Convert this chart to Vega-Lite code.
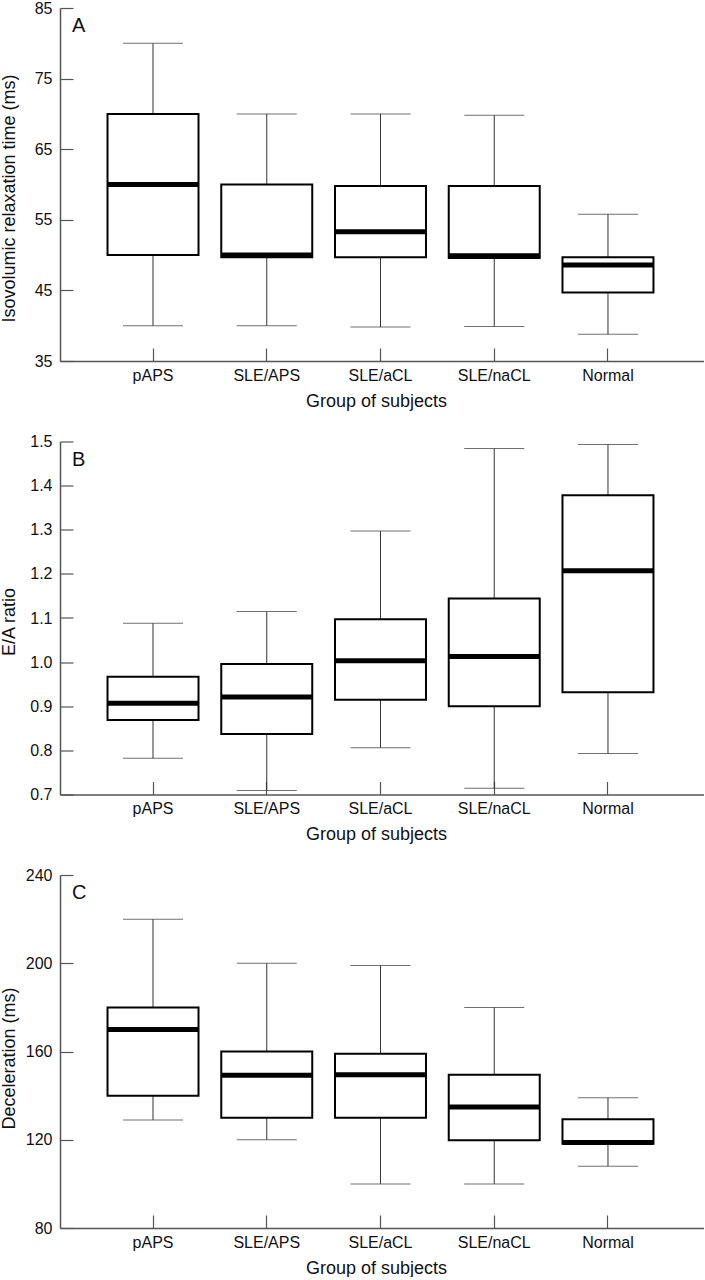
{
  "$schema": "https://vega.github.io/schema/vega-lite/v6.json",
  "padding": {"left": 0, "top": 0, "right": 0, "bottom": 0},
  "bounds": "flush",
  "spacing": 80.5,
  "datasets": {
    "a": [
      {"group": "pAPS", "lo": 40, "q1": 50, "med": 60, "q3": 70, "hi": 80},
      {"group": "SLE/APS", "lo": 40, "q1": 49.7, "med": 50.0, "q3": 60, "hi": 70},
      {"group": "SLE/aCL", "lo": 39.8, "q1": 49.7, "med": 53.3, "q3": 59.8, "hi": 70},
      {"group": "SLE/naCL", "lo": 39.9, "q1": 49.6, "med": 49.9, "q3": 59.8, "hi": 69.8},
      {"group": "Normal", "lo": 38.8, "q1": 44.7, "med": 48.6, "q3": 49.7, "hi": 55.8}
    ],
    "b": [
      {"group": "pAPS", "lo": 0.782, "q1": 0.869, "med": 0.907, "q3": 0.967, "hi": 1.088},
      {"group": "SLE/APS", "lo": 0.709, "q1": 0.837, "med": 0.921, "q3": 0.996, "hi": 1.115},
      {"group": "SLE/aCL", "lo": 0.806, "q1": 0.915, "med": 1.003, "q3": 1.097, "hi": 1.297},
      {"group": "SLE/naCL", "lo": 0.714, "q1": 0.9, "med": 1.013, "q3": 1.144, "hi": 1.484},
      {"group": "Normal", "lo": 0.793, "q1": 0.932, "med": 1.207, "q3": 1.378, "hi": 1.493}
    ],
    "c": [
      {"group": "pAPS", "lo": 129, "q1": 140, "med": 170, "q3": 180, "hi": 220},
      {"group": "SLE/APS", "lo": 120, "q1": 130, "med": 149.2, "q3": 160, "hi": 200},
      {"group": "SLE/aCL", "lo": 100, "q1": 130, "med": 149.5, "q3": 159, "hi": 199},
      {"group": "SLE/naCL", "lo": 100, "q1": 119.8, "med": 134.8, "q3": 149.5, "hi": 180},
      {"group": "Normal", "lo": 108, "q1": 118.2, "med": 118.8, "q3": 129.3, "hi": 139}
    ]
  },
  "vconcat": [
    {
      "width": 644, "height": 353,
      "data": {"name": "a"},
      "title": {"text": "A"},
      "encoding": {
        "x": {"field": "group", "type": "nominal", "sort": null, "title": "Group of subjects",
              "scale": {"paddingInner": 0, "paddingOuter": 0.331, "align": 0.48}}
      },
      "layer": [
        {"mark": {"type": "rule", "color": "#333", "strokeWidth": 1},
         "encoding": {"y": {"field": "lo", "type": "quantitative", "title": "Isovolumic relaxation time (ms)",
                            "scale": {"domain": [35, 85], "nice": false, "zero": false},
                            "axis": {"values": [35, 45, 55, 65, 75, 85], "titleY": 190}},
                      "y2": {"field": "q1"}}},
        {"mark": {"type": "rule", "color": "#333", "strokeWidth": 1},
         "encoding": {"y": {"field": "q3", "type": "quantitative", "title": "Isovolumic relaxation time (ms)"}, "y2": {"field": "hi"}}},
        {"mark": {"type": "tick", "color": "#333", "size": 60, "thickness": 1},
         "encoding": {"y": {"field": "lo", "type": "quantitative", "title": "Isovolumic relaxation time (ms)"}}},
        {"mark": {"type": "tick", "color": "#333", "size": 60, "thickness": 1},
         "encoding": {"y": {"field": "hi", "type": "quantitative", "title": "Isovolumic relaxation time (ms)"}}},
        {"mark": {"type": "bar", "fill": "white", "stroke": "black", "strokeWidth": 2, "width": {"band": 0.8}},
         "encoding": {"y": {"field": "q1", "type": "quantitative", "title": "Isovolumic relaxation time (ms)"}, "y2": {"field": "q3"}}},
        {"mark": {"type": "tick", "color": "black", "size": 91, "thickness": 5, "opacity": 1},
         "encoding": {"y": {"field": "med", "type": "quantitative", "title": "Isovolumic relaxation time (ms)"}}}
      ]
    },
    {
      "width": 644, "height": 353,
      "data": {"name": "b"},
      "title": {"text": "B"},
      "encoding": {
        "x": {"field": "group", "type": "nominal", "sort": null, "title": "Group of subjects",
              "scale": {"paddingInner": 0, "paddingOuter": 0.331, "align": 0.48}}
      },
      "layer": [
        {"mark": {"type": "rule", "color": "#333", "strokeWidth": 1},
         "encoding": {"y": {"field": "lo", "type": "quantitative", "title": "E/A ratio",
                            "scale": {"domain": [0.7, 1.5], "nice": false, "zero": false},
                            "axis": {"values": [0.7, 0.8, 0.9, 1.0, 1.1, 1.2, 1.3, 1.4, 1.5], "format": ".1f", "titleY": 180}},
                      "y2": {"field": "q1"}}},
        {"mark": {"type": "rule", "color": "#333", "strokeWidth": 1},
         "encoding": {"y": {"field": "q3", "type": "quantitative", "title": "E/A ratio"}, "y2": {"field": "hi"}}},
        {"mark": {"type": "tick", "color": "#333", "size": 60, "thickness": 1},
         "encoding": {"y": {"field": "lo", "type": "quantitative", "title": "E/A ratio"}}},
        {"mark": {"type": "tick", "color": "#333", "size": 60, "thickness": 1},
         "encoding": {"y": {"field": "hi", "type": "quantitative", "title": "E/A ratio"}}},
        {"mark": {"type": "bar", "fill": "white", "stroke": "black", "strokeWidth": 2, "width": {"band": 0.8}},
         "encoding": {"y": {"field": "q1", "type": "quantitative", "title": "E/A ratio"}, "y2": {"field": "q3"}}},
        {"mark": {"type": "tick", "color": "black", "size": 91, "thickness": 5, "opacity": 1},
         "encoding": {"y": {"field": "med", "type": "quantitative", "title": "E/A ratio"}}}
      ]
    },
    {
      "width": 644, "height": 353,
      "data": {"name": "c"},
      "title": {"text": "C"},
      "encoding": {
        "x": {"field": "group", "type": "nominal", "sort": null, "title": "Group of subjects",
              "scale": {"paddingInner": 0, "paddingOuter": 0.331, "align": 0.48}}
      },
      "layer": [
        {"mark": {"type": "rule", "color": "#333", "strokeWidth": 1},
         "encoding": {"y": {"field": "lo", "type": "quantitative", "title": "Deceleration (ms)",
                            "scale": {"domain": [80, 240], "nice": false, "zero": false},
                            "axis": {"values": [80, 120, 160, 200, 240], "titleY": 183}},
                      "y2": {"field": "q1"}}},
        {"mark": {"type": "rule", "color": "#333", "strokeWidth": 1},
         "encoding": {"y": {"field": "q3", "type": "quantitative", "title": "Deceleration (ms)"}, "y2": {"field": "hi"}}},
        {"mark": {"type": "tick", "color": "#333", "size": 60, "thickness": 1},
         "encoding": {"y": {"field": "lo", "type": "quantitative", "title": "Deceleration (ms)"}}},
        {"mark": {"type": "tick", "color": "#333", "size": 60, "thickness": 1},
         "encoding": {"y": {"field": "hi", "type": "quantitative", "title": "Deceleration (ms)"}}},
        {"mark": {"type": "bar", "fill": "white", "stroke": "black", "strokeWidth": 2, "width": {"band": 0.8}},
         "encoding": {"y": {"field": "q1", "type": "quantitative", "title": "Deceleration (ms)"}, "y2": {"field": "q3"}}},
        {"mark": {"type": "tick", "color": "black", "size": 91, "thickness": 5, "opacity": 1},
         "encoding": {"y": {"field": "med", "type": "quantitative", "title": "Deceleration (ms)"}}}
      ]
    }
  ],
  "config": {
    "font": "Liberation Sans",
    "view": {"stroke": null},
    "title": {"anchor": "start", "frame": "group", "dx": 12, "dy": 40, "offset": 0, "baseline": "alphabetic",
              "fontSize": 20, "fontWeight": "normal", "font": "Liberation Sans", "color": "#111"},
    "axis": {"grid": false, "domainColor": "#555", "domainWidth": 1.5, "tickColor": "#555", "tickWidth": 1.2,
             "tickSize": -13, "labelFont": "Liberation Sans", "labelFontSize": 16, "labelColor": "#111",
             "titleFont": "Liberation Sans", "titleFontSize": 18, "titleFontWeight": "normal", "titleColor": "#111"},
    "axisX": {"labelPadding": 19, "labelAngle": 0, "titleX": 316, "titleY": 45, "titleBaseline": "alphabetic", "titleAlign": "center"},
    "axisY": {"labelPadding": 21, "titleX": -46, "titleBaseline": "alphabetic", "titleAlign": "center", "titleAngle": -90}
  }
}
